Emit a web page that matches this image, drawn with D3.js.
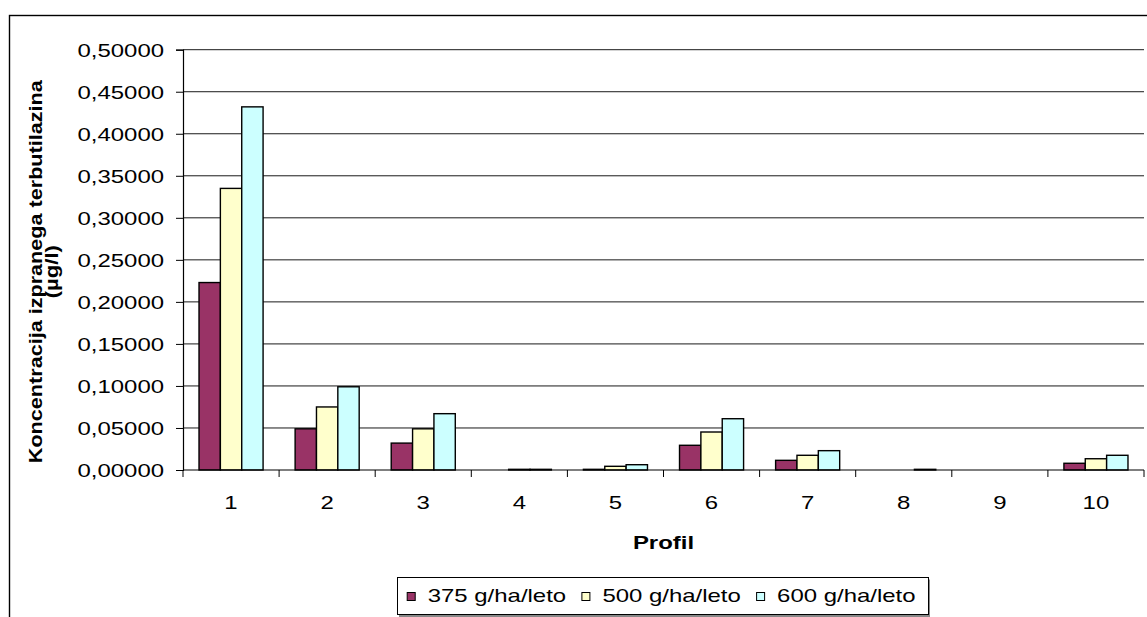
<!DOCTYPE html>
<html>
<head>
<meta charset="utf-8">
<script src="https://cdn.jsdelivr.net/npm/d3@7/dist/d3.min.js"></script>
<style>
  html, body { margin: 0; padding: 0; background: #fff; }
  svg { display: block; }
  text { font-family: "Liberation Sans", Arial, sans-serif; fill: #000; }
</style>
</head>
<body>
<svg id="chart" width="1147" height="617"></svg>
<script>
// Profiles along the x axis
const categories = ["1", "2", "3", "4", "5", "6", "7", "8", "9", "10"];
// Application rates (one bar series each)
const seriesNames = ["375 g/ha/leto", "500 g/ha/leto", "600 g/ha/leto"];
// Leached terbuthylazine concentration (µg/l) per profile
const values375 = [0.223, 0.049, 0.032, 0, 0.0008, 0.0294, 0.0115, 0, 0, 0.008];
const values500 = [0.335, 0.075, 0.049, 0.0008, 0.0044, 0.0452, 0.0175, 0, 0, 0.0134];
const values600 = [0.432, 0.099, 0.067, 0.0008, 0.0063, 0.061, 0.023, 0.0008, 0, 0.0175];
const yTicks = [0, 0.05, 0.10, 0.15, 0.20, 0.25, 0.30, 0.35, 0.40, 0.45, 0.50];
const seriesColors = ["#993366", "#ffffcc", "#ccffff"];

const yTitle = ["Koncentracija izpranega terbutilazina", "(µg/l)"];
const xTitle = "Profil";

const allSeries = [values375, values500, values600];

const svg = d3.select("#chart");
const FS = 19;        // base font size
const SX = 1.26;      // horizontal glyph stretch of the chart text

// widen a text selection horizontally by SX
function stretch(sel) {
  sel.each(function () {
    const w = this.getComputedTextLength();
    d3.select(this).attr("textLength", w * SX).attr("lengthAdjust", "spacingAndGlyphs");
  });
}

// outer chart frame
svg.append("rect")
  .attr("x", 9.5).attr("y", 15.5)
  .attr("width", 1160).attr("height", 640)
  .attr("fill", "#fff").attr("stroke", "#000").attr("stroke-width", 1.4);

const plot = { left: 183, right: 1144, top: 49.7, bottom: 470 };

const x = d3.scaleBand().domain(categories).range([plot.left, plot.right]).padding(0);
const xs = d3.scaleBand().domain(seriesNames).range([0, x.bandwidth()])
  .paddingInner(0).paddingOuter(0.75);
const y = d3.scaleLinear().domain([0, 0.5]).range([plot.bottom, plot.top]);

// horizontal gridlines
svg.append("g").selectAll("line").data(yTicks.filter(d => d > 0)).join("line")
  .attr("x1", plot.left).attr("x2", plot.right)
  .attr("y1", d => y(d)).attr("y2", d => y(d))
  .attr("stroke", "#1a1a1a").attr("stroke-width", 1);

// bars
const barG = svg.append("g");
allSeries.forEach((vals, si) => {
  barG.append("g").selectAll("rect")
    .data(categories.map((c, i) => ({ c, v: vals[i] })).filter(d => d.v > 0))
    .join("rect")
    .attr("x", d => x(d.c) + xs(seriesNames[si]))
    .attr("y", d => y(d.v))
    .attr("width", xs.bandwidth())
    .attr("height", d => y(0) - y(d.v))
    .attr("fill", seriesColors[si])
    .attr("stroke", "#000").attr("stroke-width", 1.4);
});

// y axis
const yAxis = d3.axisLeft(y).tickValues(yTicks).tickSize(7).tickPadding(12)
  .tickFormat(d => d.toFixed(5).replace(".", ","));
const yg = svg.append("g").attr("transform", `translate(${plot.left},0)`).call(yAxis);
yg.select(".domain").attr("stroke", "#000").attr("stroke-width", 1.2);
yg.selectAll(".tick line").attr("stroke", "#000");
yg.selectAll(".tick text")
  .attr("font-size", FS).attr("font-family", "Liberation Sans, Arial, sans-serif")
  .attr("fill", "#000").attr("dy", "0.34em")
  .call(stretch);

// x axis: ticks at category boundaries, labels at category centres
const boundaries = categories.map(c => x(c)).concat([x(categories[categories.length - 1]) + x.bandwidth()]);
const xg = svg.append("g");
xg.append("line")
  .attr("x1", plot.left).attr("x2", plot.right)
  .attr("y1", y(0)).attr("y2", y(0))
  .attr("stroke", "#000").attr("stroke-width", 1.2);
xg.selectAll("line.tk").data(boundaries).join("line").attr("class", "tk")
  .attr("x1", d => d).attr("x2", d => d)
  .attr("y1", y(0)).attr("y2", y(0) + 7)
  .attr("stroke", "#000");
xg.selectAll("text").data(categories).join("text")
  .attr("x", d => x(d) + x.bandwidth() / 2)
  .attr("y", 509)
  .attr("text-anchor", "middle")
  .attr("font-size", FS)
  .text(d => d)
  .call(stretch);

// axis titles
svg.append("text")
  .attr("x", (plot.left + plot.right) / 2).attr("y", 549)
  .attr("text-anchor", "middle").attr("font-size", FS).attr("font-weight", "bold")
  .text(xTitle).call(stretch);

const yt = svg.append("g").attr("transform", "translate(0,271.7) rotate(-90)");
yt.append("text").attr("x", 0).attr("y", 41.5)
  .attr("text-anchor", "middle").attr("font-size", 17.5).attr("font-weight", "bold")
  .text(yTitle[0]).attr("textLength", 383).attr("lengthAdjust", "spacingAndGlyphs");
yt.append("text").attr("x", 0).attr("y", 58)
  .attr("text-anchor", "middle").attr("font-size", 17.5).attr("font-weight", "bold")
  .text(yTitle[1]).call(stretch);

// legend
const lg = svg.append("g");
lg.append("rect").attr("x", 399).attr("y", 579.5).attr("width", 531).attr("height", 38)
  .attr("fill", "#888");
lg.append("rect").attr("x", 397.5).attr("y", 577.5).attr("width", 531).attr("height", 37)
  .attr("fill", "#fff").attr("stroke", "#000").attr("stroke-width", 1);
const item = lg.selectAll("g.item").data(seriesNames).join("g").attr("class", "item")
  .attr("transform", (d, i) => `translate(${406.7 + i * 174.7},0)`);
item.append("rect").attr("x", 0.5).attr("y", 592.5).attr("width", 8).attr("height", 8)
  .attr("fill", (d, i) => seriesColors[i]).attr("stroke", "#000").attr("stroke-width", 1);
item.append("text").attr("x", 21).attr("y", 602)
  .attr("font-size", FS).text(d => d).call(stretch);
</script>
</body>
</html>
